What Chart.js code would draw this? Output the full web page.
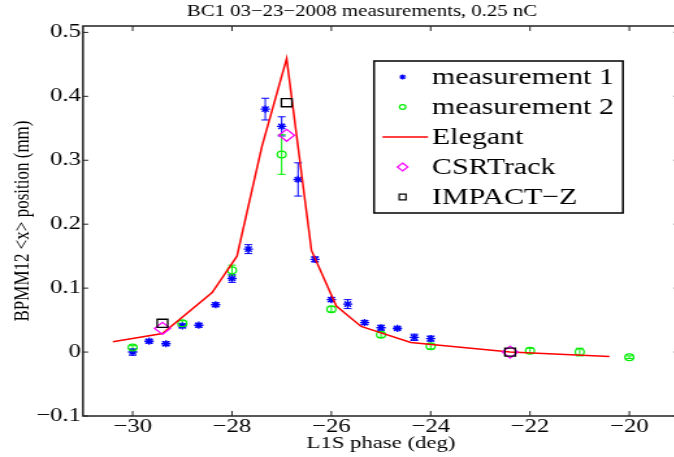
<!DOCTYPE html>
<html>
<head>
<meta charset="utf-8">
<script src="https://cdn.jsdelivr.net/npm/chart.js@4/dist/chart.umd.min.js"></script>
<style>
  html, body { margin: 0; padding: 0; background: #fff; overflow: hidden; width: 674px; height: 457px; }
  /* the original figure was widened after export, so the whole canvas is stretched */
  #wrap { width: 531px; height: 457px; transform: scaleX(1.3); transform-origin: 0 0; }
</style>
</head>
<body>
<div id="wrap"><canvas id="chart" width="531" height="457"></canvas></div>
<script>
const SX = 1.3;

// axis ticks
const xTicks = [-30, -28, -26, -24, -22, -20];
const yTicks = [-0.1, 0, 0.1, 0.2, 0.3, 0.4, 0.5];

// measurement 1 (blue asterisks, with error bars)
const m1Phase = [-30, -29.67, -29.33, -29, -28.67, -28.33, -28, -27.67, -27.33, -27, -26.67, -26.33, -26, -25.67, -25.33, -25, -24.67, -24.33, -24];
const m1Pos = [0.000, 0.017, 0.013, 0.041, 0.042, 0.074, 0.115, 0.161, 0.380, 0.353, 0.270, 0.145, 0.082, 0.075, 0.046, 0.038, 0.037, 0.023, 0.021];
const m1Err = [0.005, 0.003, 0.003, 0.003, 0.003, 0.003, 0.006, 0.007, 0.017, 0.015, 0.026, 0.004, 0.003, 0.007, 0.003, 0.004, 0.002, 0.005, 0.004];

// measurement 2 (green circles, with error bars)
const m2Phase = [-30, -29, -28, -27, -26, -25, -24, -22, -21, -20];
const m2Pos = [0.007, 0.045, 0.128, 0.309, 0.067, 0.027, 0.009, 0.002, 0.000, -0.008];
const m2Err = [0.003, 0.004, 0.008, 0.031, 0.004, 0.004, 0.004, 0.004, 0.006, 0.002];

// simulations
const elegantPhase = [-30.4, -29.4, -28.4, -27.9, -27.4, -26.9, -26.4, -25.9, -25.4, -24.4, -22.4, -20.4];
const elegantPos = [0.016, 0.029, 0.093, 0.150, 0.321, 0.459, 0.159, 0.072, 0.040, 0.015, 0.000, -0.007];
const csrPhase = [-29.4, -26.9, -22.4];
const csrPos = [0.037, 0.339, 0.000];
const impactPhase = [-29.4, -26.9, -22.4];
const impactPos = [0.045, 0.390, 0.000];

const FONT = '"Liberation Serif", "Times New Roman", serif';

function pts(xs, ys) {
    return xs.map((x, i) => ({ x: x, y: ys[i] }));
}

function fmt(v) {
    const r = Math.round(v * 10) / 10;
    return (r < 0 ? '\u2212' : '') + Math.abs(r);
}

// vertical error bars with caps
const errorBars = {
    id: 'errorBars',
    beforeDatasetsDraw(chart) {
        const { ctx, scales: { x, y } } = chart;
        chart.data.datasets.forEach(ds => {
            if (!ds.err) return;
            ctx.save();
            ctx.strokeStyle = ds.borderColor;
            ctx.lineWidth = 1;
            ds.data.forEach((p, j) => {
                const px = x.getPixelForValue(p.x);
                const top = y.getPixelForValue(p.y + ds.err[j]);
                const bot = y.getPixelForValue(p.y - ds.err[j]);
                ctx.beginPath();
                ctx.moveTo(px, top); ctx.lineTo(px, bot);
                ctx.moveTo(px - 3, top); ctx.lineTo(px + 3, top);
                ctx.moveTo(px - 3, bot); ctx.lineTo(px + 3, bot);
                ctx.stroke();
            });
            ctx.restore();
        });
    }
};

// matlab style box with inward ticks on all four sides
const frame = {
    id: 'frame',
    afterDraw(chart) {
        const { ctx, chartArea: a, scales: { x, y } } = chart;
        ctx.save();
        ctx.strokeStyle = '#222';
        ctx.lineWidth = 1.5;
        ctx.strokeRect(a.left, a.top, a.right - a.left, a.bottom - a.top);
        ctx.lineWidth = 1;
        ctx.beginPath();
        xTicks.forEach(v => {
            const px = x.getPixelForValue(v);
            ctx.moveTo(px, a.bottom); ctx.lineTo(px, a.bottom - 5);
            ctx.moveTo(px, a.top); ctx.lineTo(px, a.top + 5);
        });
        yTicks.forEach(v => {
            const py = y.getPixelForValue(v);
            ctx.moveTo(a.left, py); ctx.lineTo(a.left + 4, py);
            ctx.moveTo(a.right, py); ctx.lineTo(a.right - 4, py);
        });
        ctx.stroke();
        ctx.restore();
    }
};

function drawMark(ctx, kind, cx, cy) {
    ctx.beginPath();
    if (kind === 'star') {
        const r = 2.6, d = r * Math.SQRT1_2;
        ctx.moveTo(cx - r, cy); ctx.lineTo(cx + r, cy);
        ctx.moveTo(cx, cy - r); ctx.lineTo(cx, cy + r);
        ctx.moveTo(cx - d, cy - d); ctx.lineTo(cx + d, cy + d);
        ctx.moveTo(cx - d, cy + d); ctx.lineTo(cx + d, cy - d);
    } else if (kind === 'circle') {
        ctx.arc(cx, cy, 2.4, 0, Math.PI * 2);
    } else if (kind === 'line') {
        ctx.moveTo(cx - 15.5, cy); ctx.lineTo(cx + 19.5, cy);
    } else if (kind === 'rectRot') {
        ctx.moveTo(cx, cy - 4); ctx.lineTo(cx + 4, cy);
        ctx.lineTo(cx, cy + 4); ctx.lineTo(cx - 4, cy);
        ctx.closePath();
    } else {
        ctx.rect(cx - 2.6, cy - 2.8, 5.2, 5.6);
    }
    ctx.stroke();
}

const titleAndLegend = {
    id: 'titleAndLegend',
    afterDraw(chart) {
        const ctx = chart.ctx;
        ctx.save();
        ctx.fillStyle = '#000';
        ctx.textBaseline = 'middle';
        ctx.textAlign = 'center';
        ctx.font = '16px ' + FONT;
        ctx.fillText('BC1 03\u221223\u22122008 measurements, 0.25 nC', 278.5, 12);

        // legend box
        const bx = 287.7, by = 61, bw = 191.5, bh = 152;
        ctx.fillStyle = '#fff';
        ctx.fillRect(bx, by, bw, bh);
        ctx.strokeStyle = '#000';
        ctx.lineWidth = 1.5;
        ctx.strokeRect(bx, by, bw, bh);

        ctx.textAlign = 'left';
        ctx.font = '23px ' + FONT;
        chart.data.datasets.forEach((ds, i) => {
            const cy = by + 16 + i * 30;
            ctx.strokeStyle = ds.borderColor;
            ctx.lineWidth = ds.legendMark === 'line' ? 1.5 : 1.2;
            drawMark(ctx, ds.legendMark, bx + 22, cy);
            ctx.fillStyle = '#000';
            ctx.fillText(ds.label, bx + 44.6, cy + 1);
        });
        ctx.restore();
    }
};

const ctx = document.getElementById('chart').getContext('2d');
new Chart(ctx, {
    type: 'scatter',
    data: {
        datasets: [
            {
                label: 'measurement 1', data: pts(m1Phase, m1Pos), err: m1Err, legendMark: 'star',
                pointStyle: 'star', pointRadius: 3.6, pointBorderWidth: 1.4,
                borderColor: '#0000ff', backgroundColor: '#0000ff', order: 5
            },
            {
                label: 'measurement 2', data: pts(m2Phase, m2Pos), err: m2Err, legendMark: 'circle',
                pointStyle: 'circle', pointRadius: 3.4, pointBorderWidth: 1.2,
                borderColor: '#00ee00', backgroundColor: 'rgba(0,0,0,0)', order: 4
            },
            {
                label: 'Elegant', data: pts(elegantPhase, elegantPos), legendMark: 'line',
                showLine: true, pointRadius: 0, borderWidth: 1.5,
                borderColor: '#ff0000', backgroundColor: '#ff0000', order: 3
            },
            {
                label: 'CSRTrack', data: pts(csrPhase, csrPos), legendMark: 'rectRot',
                pointStyle: 'rectRot', pointRadius: 6, pointBorderWidth: 1.3,
                borderColor: '#ff00ff', backgroundColor: 'rgba(0,0,0,0)', order: 2
            },
            {
                label: 'IMPACT\u2212Z', data: pts(impactPhase, impactPos), legendMark: 'rect',
                pointStyle: 'rect', pointRadius: 5.7, pointBorderWidth: 1.3,
                borderColor: '#000000', backgroundColor: 'rgba(0,0,0,0)', order: 1
            }
        ]
    },
    options: {
        responsive: false,
        animation: false,
        devicePixelRatio: 1,
        layout: { padding: { top: 26, right: 8.7, left: 0, bottom: 0 } },
        plugins: { legend: { display: false }, tooltip: { enabled: false } },
        scales: {
            x: {
                type: 'linear', min: -31, max: -19,
                grid: { display: false, drawTicks: false },
                border: { display: false },
                afterBuildTicks: s => { s.ticks = xTicks.map(v => ({ value: v })); },
                afterFit: s => { s.height = 41; },
                ticks: {
                    autoSkip: false, maxRotation: 0, padding: 0, color: '#000',
                    font: { family: FONT, size: 19 }, callback: fmt
                },
                title: {
                    display: true, text: 'L1S phase (deg)', color: '#000',
                    font: { family: FONT, size: 17.5 }, padding: { top: 0, bottom: 3 }
                }
            },
            y: {
                type: 'linear', min: -0.1, max: 0.51,
                grid: { display: false, drawTicks: false },
                border: { display: false },
                afterBuildTicks: s => { s.ticks = yTicks.map(v => ({ value: v })); },
                afterFit: s => { s.width = 83 / SX; },
                ticks: {
                    autoSkip: false, padding: 1.5, color: '#000',
                    font: { family: FONT, size: 19 }, callback: fmt
                },
                title: {
                    display: true, text: 'BPMM12 <x> position (mm)', color: '#000',
                    font: { family: FONT, size: 17 }, padding: { top: 7, bottom: 0 }
                }
            }
        }
    },
    plugins: [errorBars, frame, titleAndLegend]
});
</script>
</body>
</html>
